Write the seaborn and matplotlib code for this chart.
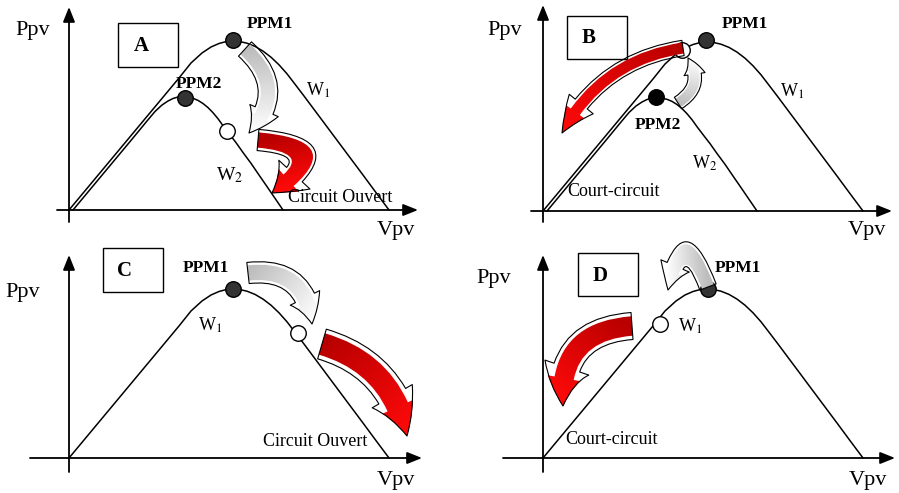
import numpy as np
import matplotlib
matplotlib.use("Agg")
import matplotlib.pyplot as plt
import seaborn as sns
from matplotlib.patches import FancyArrowPatch, Rectangle
from matplotlib.colors import LinearSegmentedColormap

sns.set_theme(style="white")
plt.rcParams["font.family"] = ["Liberation Serif", "DejaVu Serif"]
plt.rcParams["mathtext.fontset"] = "stix"

# ---- P-V characteristics (units: px from origin) ----
W1_V = [0, 30, 60, 90, 110, 122, 133, 142, 150, 157, 164, 171, 178, 186, 194, 202,
        210, 218, 226, 235, 245, 256, 268, 281, 294, 307, 320]
W1_P = [0, 36, 72, 108, 132, 147, 157, 163, 166.5, 168.4, 169, 168.4, 166.8, 163.6, 158.9, 152.8,
        145.2, 136.2, 125.8, 114, 100.6, 85.9, 69.8, 52.4, 35, 17.4, 0]
W2_V = [4, 24, 44, 64, 78, 86, 93, 99, 104, 109, 114, 119, 124, 129, 134, 139,
        144, 149, 154, 160, 167, 174, 182, 190, 198, 206, 214]
W2_P = [0, 24, 48, 72, 89, 98.5, 105, 109, 111.5, 113, 113, 112.8, 111.7, 109.6, 106.5, 102.4,
        97.3, 91.3, 84.3, 76.4, 67.4, 57.5, 46.7, 35, 23.4, 11.7, 0]

# operating points per panel: (V, P, style)
POINTS_A = [(164, 170, "mpp"), (116, 112, "mpp"), (158, 79, "open")]
POINTS_B = [(163, 171, "mpp"), (113, 114, "black"), (139, 161, "open")]
POINTS_C = [(164, 169, "mpp"), (229, 125, "open")]
POINTS_D = [(165, 169, "mpp"), (117, 134, "open")]

# texts per panel: (text, V, P, size, weight, ha)
TEXT_A = [("Ppv", -36, 180, 16, "normal", "center"), ("Vpv", 327, -21, 16, "normal", "center"),
          ("A", 72, 164, 15, "bold", "center"), ("PPM1", 201, 186, 12.5, "bold", "center"),
          ("PPM2", 130, 126, 12.5, "bold", "center"), ("W$_1$", 249, 120, 13, "normal", "center"),
          ("W$_2$", 161, 35, 14, "normal", "center"), ("Circuit Ouvert", 219, 12, 13, "normal", "left")]
TEXT_B = [("Ppv", -38, 181, 16, "normal", "center"), ("Vpv", 324, -20, 16, "normal", "center"),
          ("B", 46, 173, 15, "bold", "center"), ("PPM1", 202, 187, 12.5, "bold", "center"),
          ("PPM2", 115, 86, 12.5, "bold", "center"), ("W$_1$", 249, 120, 13, "normal", "center"),
          ("W$_2$", 162, 48, 13, "normal", "center"), ("Court-circuit", 24, 19, 13, "normal", "left")]
TEXT_C = [("Ppv", -46, 165, 16, "normal", "center"), ("Vpv", 327, -22, 16, "normal", "center"),
          ("C", 56, 187, 15, "bold", "center"), ("PPM1", 137, 190, 12.5, "bold", "center"),
          ("W$_1$", 141, 133, 13, "normal", "center"), ("Circuit Ouvert", 194, 16, 13, "normal", "left")]
TEXT_D = [("Ppv", -49, 180, 16, "normal", "center"), ("Vpv", 325, -22, 16, "normal", "center"),
          ("D", 57, 182, 15, "bold", "center"), ("PPM1", 195, 190, 12.5, "bold", "center"),
          ("W$_1$", 147, 132, 13, "normal", "center"), ("Court-circuit", 22, 18, 13, "normal", "left")]

# curved block arrows: (start, end, rad, kind, tail_w, head_w, head_l)
ARROWS_A = [((176, 161), (180, 77), -0.5, "gray", 10, 16, 14),
            ((189, 70), (203, 17), -1.4, "red", 11, 22, 15)]
ARROWS_B = [((135, 108), (145, 153), 0.5, "gray", 7, 11, 9),
            ((140, 163), (19, 78), 0.25, "red", 8, 16, 18)]
ARROWS_C = [((179, 185), (243, 134), -0.5, "gray", 11, 17, 14),
            ((253, 114), (338, 22), -0.3, "red", 16, 24, 22)]
ARROWS_D = [((165, 171), (125, 168), 1.7, "gray", 9, 16, 13),
            ((89, 132), (20, 52), 0.5, "red", 14, 24, 20)]

# layout: figure-pixel region, origin pixel, axis extents, label box
PANELS = [
    dict(region=(0, 0, 449.5, 240), origin=(69, 210), yax=(-12, 203), xax=(-12, 349),
         box=(49, 143, 60, 44), curves=2, pts=POINTS_A, txt=TEXT_A, arr=ARROWS_A),
    dict(region=(449.5, 0, 899, 240), origin=(543, 211), yax=(-11, 206), xax=(-12, 349),
         box=(24, 152, 60, 43), curves=2, pts=POINTS_B, txt=TEXT_B, arr=ARROWS_B),
    dict(region=(0, 240, 449.5, 493), origin=(69, 458), yax=(-14, 203), xax=(-39, 353),
         box=(34, 166, 60, 44), curves=1, pts=POINTS_C, txt=TEXT_C, arr=ARROWS_C),
    dict(region=(449.5, 240, 899, 493), origin=(543, 458), yax=(-14, 203), xax=(-40, 352),
         box=(35, 162, 60, 43), curves=1, pts=POINTS_D, txt=TEXT_D, arr=ARROWS_D),
]

W, H = 899, 493
fig = plt.figure(figsize=(W / 100, H / 100), dpi=100)
fig.patch.set_facecolor("white")

COLORS = {"gray": ("#bdbdbd", "#ffffff"), "red": ("#b80000", "#ff0a0a")}


def block_arrow(ax, start, end, rad, kind, tw, hw, hl):
    style = f"simple,tail_width={tw},head_width={hw},head_length={hl}"
    p = FancyArrowPatch(start, end, connectionstyle=f"arc3,rad={rad}", arrowstyle=style,
                        mutation_scale=1.39, facecolor="none", edgecolor="black", lw=0.8,
                        shrinkA=0, shrinkB=0, zorder=6, clip_on=False)
    ax.add_patch(p)
    (x0, y0), (x1, y1) = start, end
    mx, my = (x0 + x1) / 2, (y0 + y1) / 2
    cx, cy = mx + rad * (y1 - y0), my - rad * (x1 - x0)
    xs = [x0, x1, cx]
    ys = [y0, y1, cy]
    xmin, xmax = min(xs) - 40, max(xs) + 40
    ymin, ymax = min(ys) - 40, max(ys) + 40
    gx = np.linspace(xmin, xmax, 200)
    gy = np.linspace(ymin, ymax, 200)
    X, Y = np.meshgrid(gx, gy)
    t = ((X - x0) * (x1 - x0) + (Y - y0) * (y1 - y0)) / ((x1 - x0) ** 2 + (y1 - y0) ** 2)
    t = np.clip(t, 0, 1)
    cmap = LinearSegmentedColormap.from_list("g", list(COLORS[kind]))
    im = ax.imshow(t, extent=(xmin, xmax, ymin, ymax), origin="lower", cmap=cmap,
                   vmin=0, vmax=1, aspect="auto", interpolation="bilinear", zorder=5)
    im.set_clip_box(None)
    im.set_clip_path(p)


for pn in PANELS:
    x0, y0, x1, y1 = pn["region"]
    ox, oy = pn["origin"]
    ax = fig.add_axes([x0 / W, 1 - y1 / H, (x1 - x0) / W, (y1 - y0) / H])
    ax.set_autoscale_on(False)
    ax.set_xlim(x0 - ox, x1 - ox)
    ax.set_ylim(oy - y1, oy - y0)
    ax.set_axis_off()

    # axes with arrow heads
    ax.annotate("", xy=(0, pn["yax"][1]), xytext=(0, pn["yax"][0]),
                arrowprops=dict(arrowstyle="-|>,head_length=0.5,head_width=0.2", lw=1.3,
                                color="black", mutation_scale=18, shrinkA=0, shrinkB=0))
    ax.annotate("", xy=(pn["xax"][1], 0), xytext=(pn["xax"][0], 0),
                arrowprops=dict(arrowstyle="-|>,head_length=0.5,head_width=0.2", lw=1.3,
                                color="black", mutation_scale=18, shrinkA=0, shrinkB=0))

    sns.lineplot(x=W1_V, y=W1_P, sort=False, color="black", lw=1.1, ax=ax, zorder=3)
    if pn["curves"] == 2:
        sns.lineplot(x=W2_V, y=W2_P, sort=False, color="black", lw=1.1, ax=ax, zorder=3)

    bx, by, bw, bh = pn["box"]
    ax.add_patch(Rectangle((bx, by), bw, bh, facecolor="white", edgecolor="black", lw=1.0, zorder=2))

    for v, p, kind in pn["pts"]:
        fc = {"mpp": "#333333", "black": "#000000", "open": "#ffffff"}[kind]
        ax.scatter([v], [p], s=125, facecolor=fc, edgecolor="black", linewidth=1.0, zorder=4)

    for s, v, p, size, weight, ha in pn["txt"]:
        ax.text(v, p, s, fontsize=size, fontweight=weight, ha=ha, va="center", color="black", zorder=7)

    for st, en, rad, kind, tw, hw, hl in pn["arr"]:
        block_arrow(ax, st, en, rad, kind, tw, hw, hl)

fig.savefig("out.png", dpi=100, facecolor="white")
